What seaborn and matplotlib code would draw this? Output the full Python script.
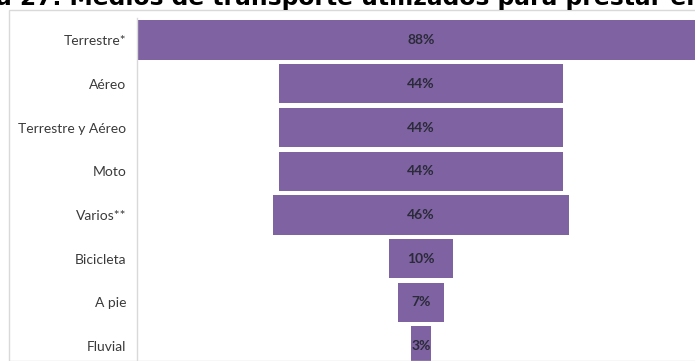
import matplotlib
matplotlib.use("Agg")
import matplotlib.pyplot as plt
import seaborn as sns
import pandas as pd
from matplotlib.patches import Rectangle

categories = ["Terrestre*", "Aéreo", "Terrestre y Aéreo", "Moto", "Varios**",
              "Bicicleta", "A pie", "Fluvial"]
values = [88, 44, 44, 44, 46, 10, 7, 3]
labels = ["88%", "44%", "44%", "44%", "46%", "10%", "7%", "3%"]
title = "a 27. Medios de transporte utilizados para prestar el"

sns.set_theme(style="white")
plt.rcParams["font.family"] = ["Lato", "DejaVu Sans"]

W, H = 695, 361
fig = plt.figure(figsize=(W / 100, H / 100), dpi=100)

# chart border (light gray frame, partly off-canvas)
fig.patches.append(Rectangle((9 / W, 0), 1.0, 1 - 10 / H, transform=fig.transFigure,
                             fill=False, edgecolor="#d9d9d9", linewidth=1.0, zorder=0))

left_px, right_px = 137, 705
top_px, bottom_px = 18.2, 368.0
ax = fig.add_axes([left_px / W, 1 - bottom_px / H, (right_px - left_px) / W,
                   (bottom_px - top_px) / H])

df = pd.DataFrame({"cat": categories, "half": [v / 2 for v in values]})
df["neg"] = -df["half"]
color = "#7e62a1"
sns.barplot(data=df, x="half", y="cat", color=color, saturation=1, width=0.9,
            orient="h", ax=ax, linewidth=0)
sns.barplot(data=df, x="neg", y="cat", color=color, saturation=1, width=0.9,
            orient="h", ax=ax, linewidth=0)

ax.set_xlim(-44.15, 44.15)
ax.set_ylim(len(categories) - 0.5, -0.5)
for i, lab in enumerate(labels):
    ax.text(0, i, lab, ha="center", va="center", fontsize=10, fontweight="bold",
            color="#2a2a38")

ax.set_xlabel("")
ax.set_ylabel("")
ax.set_xticks([])
ax.tick_params(axis="y", length=0, pad=7.5, labelsize=10, labelcolor="#3a3a3a")
for s in ["top", "right", "bottom"]:
    ax.spines[s].set_visible(False)
ax.spines["left"].set_color("#d9d9d9")
ax.spines["left"].set_linewidth(1.0)

fig.text(-4 / W, 1 - 5.5 / H, title, ha="left", va="baseline", fontsize=16.8,
         fontweight="bold", color="black", family=["DejaVu Sans"])

fig.savefig("out.png", dpi=100)
